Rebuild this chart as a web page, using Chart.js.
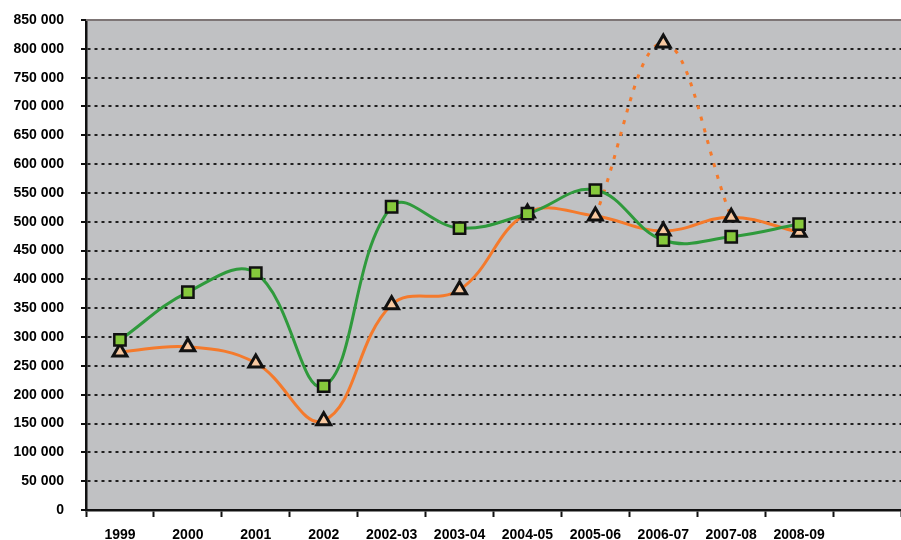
<!DOCTYPE html>
<html>
<head>
<meta charset="utf-8">
<script src="https://cdn.jsdelivr.net/npm/chart.js@4/dist/chart.umd.min.js"></script>
<style>
  html, body { margin: 0; padding: 0; background: #fff; overflow: hidden; }
  #wrap { width: 901px; height: 540px; }
  canvas { display: block; }
</style>
</head>
<body>
<div id="wrap"><canvas id="lineChart" width="901" height="540"></canvas></div>
<script>
// categories (last slot is empty in the original)
const years = ['1999', '2000', '2001', '2002', '2002-03', '2003-04', '2004-05', '2005-06', '2006-07', '2007-08', '2008-09', ''];

// green squares
const greenValues = [295000, 378000, 411000, 215000, 526000, 489000, 514000, 555000, 468000, 474000, 496000, null];
// orange triangles
const orangeValues = [274000, 283000, 255000, 155000, 356000, 382000, 515000, 510000, 484000, 508000, 482000, null];
// dotted orange spike
const spikeValues = [null, null, null, null, null, null, null, 510000, 810000, 508000, null, null];

const yTicks = { min: 0, max: 850000, step: 50000 };

const fmt = (v) => String(v).replace(/\B(?=(\d{3})+(?!\d))/g, ' ');

// grey plot background + top border
const plotBg = {
    id: 'plotBg',
    beforeDraw(chart) {
        const { ctx, chartArea: a } = chart;
        ctx.save();
        ctx.fillStyle = '#c0c1c3';
        ctx.fillRect(a.left, a.top, a.right - a.left, a.bottom - a.top);
        ctx.restore();
    },
    beforeDatasetsDraw(chart) {
        const { ctx, chartArea: a } = chart;
        ctx.save();
        ctx.strokeStyle = '#7d7575';
        ctx.lineWidth = 2;
        ctx.beginPath();
        ctx.moveTo(a.left, a.top);
        ctx.lineTo(a.right, a.top);
        ctx.stroke();
        ctx.restore();
    }
};

const ctx = document.getElementById('lineChart').getContext('2d');

new Chart(ctx, {
    type: 'line',
    data: {
        labels: years,
        datasets: [
            {
                data: greenValues,
                borderColor: '#2f9a3c',
                borderWidth: 3,
                tension: 0.4,
                pointStyle: 'rect',
                pointRadius: 8,
                pointBackgroundColor: '#86c93c',
                pointBorderColor: '#111',
                pointBorderWidth: 2.5
            },
            {
                data: orangeValues,
                borderColor: '#f47a2c',
                borderWidth: 3,
                tension: 0.4,
                pointStyle: 'triangle',
                pointRadius: 8,
                pointBackgroundColor: '#f8c9a1',
                pointBorderColor: '#111',
                pointBorderWidth: 3
            },
            {
                data: spikeValues,
                borderColor: '#f47a2c',
                borderWidth: 3,
                borderDash: [4, 8],
                tension: 0.4,
                pointStyle: 'triangle',
                pointRadius: (c) => c.dataIndex === 8 ? 8 : 0,
                pointBackgroundColor: '#f8c9a1',
                pointBorderColor: '#111',
                pointBorderWidth: 3
            }
        ]
    },
    options: {
        responsive: false,
        animation: false,
        layout: { autoPadding: false, padding: { top: 20, left: 0, right: 0, bottom: 0 } },
        plugins: {
            legend: { display: false },
            tooltip: { enabled: false }
        },
        scales: {
            x: {
                offset: true,
                grid: {
                    offset: true,
                    drawOnChartArea: false,
                    drawTicks: true,
                    tickLength: 7,
                    tickColor: '#111',
                    tickWidth: 2
                },
                border: { display: true, color: '#111', width: 2.5 },
                ticks: {
                    color: '#000',
                    padding: 10,
                    maxRotation: 0,
                    autoSkip: false,
                    font: { family: 'Liberation Sans', size: 14, weight: 'bold' }
                },
                afterFit(scale) {
                    scale.height = 30;
                    scale.paddingLeft = 0;
                    scale.paddingRight = 0;
                }
            },
            y: {
                min: yTicks.min,
                max: yTicks.max,
                grid: {
                    color: (c) => (c.tick && (c.tick.value === 0 || c.tick.value === yTicks.max)) ? 'rgba(0,0,0,0)' : '#1f1f1f',
                    lineWidth: 2,
                    tickColor: '#111',
                    tickLength: 5,
                    tickWidth: 2
                },
                border: { display: true, color: '#111', width: 2.5, dash: [3, 4] },
                ticks: {
                    stepSize: yTicks.step,
                    color: '#000',
                    padding: 17,
                    callback: (v) => fmt(v),
                    font: { family: 'Liberation Sans', size: 14, weight: 'bold' }
                },
                afterFit(scale) {
                    scale.width = 86;
                    scale.paddingTop = 0;
                    scale.paddingBottom = 0;
                }
            }
        }
    },
    plugins: [plotBg]
});
</script>
</body>
</html>
